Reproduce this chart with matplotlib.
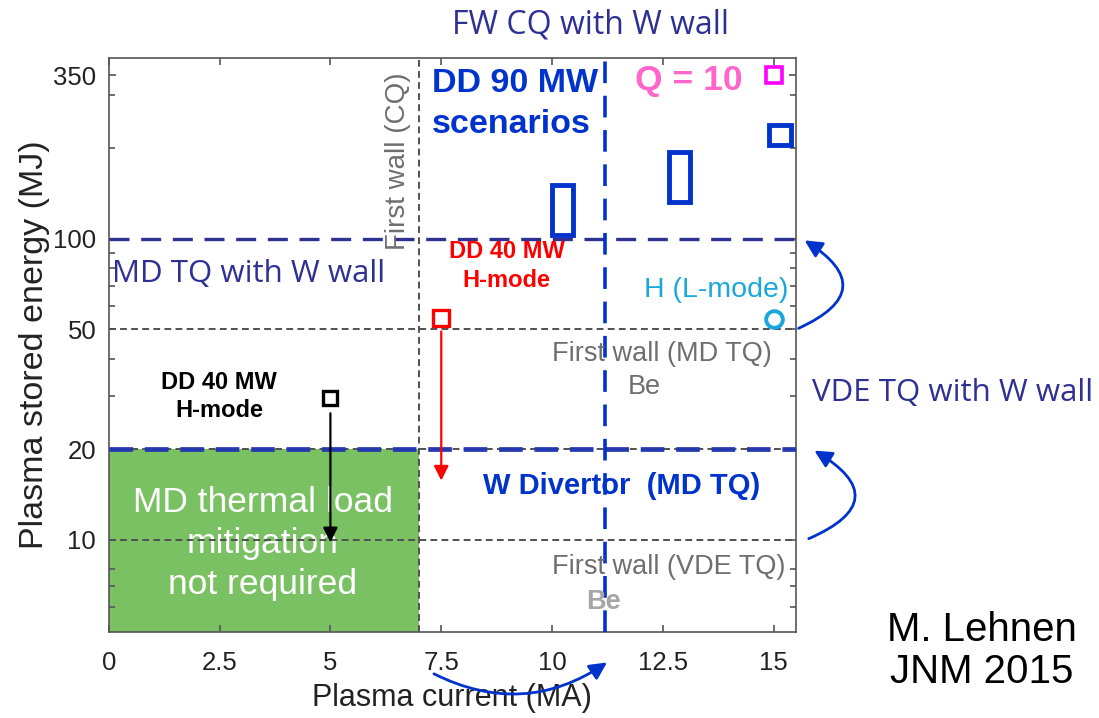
import matplotlib
matplotlib.use("Agg")
import matplotlib.pyplot as plt
from matplotlib.patches import Rectangle
from matplotlib.ticker import FixedLocator, NullFormatter

# === DATA ===
x_ticks = [0, 2.5, 5, 7.5, 10, 12.5, 15]
x_tick_labels = ["0", "2.5", "5", "7.5", "10", "12.5", "15"]
y_ticks = [10, 20, 50, 100, 350]
y_minor = [6, 7, 8, 30, 40, 60, 70, 80, 90, 200, 300]

# limit lines
fw_cq_current = 7.0
w_wall_cq_current = 11.2
gray_levels = [50, 20, 10]
md_w_wall_level = 100
vde_w_wall_level = 20

# no-mitigation zone (current max, energy max)
safe_current = 7.0
safe_energy = 20

# DD 90 MW scenario boxes: (I min, I max, W min, W max)
box_i0 = [10.0, 12.63, 14.88]
box_i1 = [10.48, 13.11, 15.38]
box_w0 = [103, 133, 205]
box_w1 = [151, 195, 239]

# single points
q10_point = (15.0, 350)
hl_point = (15.0, 54)
dd40_red = (7.5, 54.4)
dd40_black = (5.0, 29.5)
red_arrow_end = 15.4
black_arrow_end = 9.6

INDIGO = "#2e3192"
BLUE = "#0033cc"
GRAY = "#6e6e6e"
ARIAL = "Liberation Sans"
OPEN = "Open Sans"

plt.rcParams["font.family"] = ARIAL

fig = plt.figure(figsize=(10.99, 7.18), dpi=100)
ax = fig.add_axes([0.0989, 0.1202, 0.6254, 0.7994])
ax.set_yscale("log")
ax.set_xlim(0, 15.5)
ax.set_ylim(4.95, 400)

# green region
ax.add_patch(Rectangle((0, 4.95), safe_current, safe_energy - 4.95,
                       facecolor="#7ac163", edgecolor="none", zorder=0))
ax.text(3.48, 9.7, "MD thermal load\nmitigation\nnot required", color="white",
        fontsize=25.5, ha="center", va="center", linespacing=1.3, zorder=1)

# gray dashed limits
for lv in gray_levels:
    ax.axhline(lv, color="#505050", lw=1.4, ls=(0, (3.5, 2.2)), zorder=2)
ax.axvline(fw_cq_current, color="#505050", lw=1.4, ls=(0, (3.5, 2.2)), zorder=2)

# blue dashed lines
ax.axhline(md_w_wall_level, color=INDIGO, lw=2.4, ls=(0, (6, 3.5)), zorder=3)
ax.axhline(vde_w_wall_level, color="#2438b0", lw=3.4, ls=(0, (5, 2.5)), zorder=3)
ax.axvline(w_wall_cq_current, color=BLUE, lw=2.6, ls=(0, (6, 3.5)), zorder=3)

# scenario boxes
for a, b, c, d in zip(box_i0, box_i1, box_w0, box_w1):
    ax.add_patch(Rectangle((a, c), b - a, d - c, facecolor="none",
                           edgecolor=BLUE, lw=3.5, zorder=5, clip_on=False))

ax.plot(*q10_point, marker="s", ms=11, mfc="none", mec="#ff00ff", mew=2.6, zorder=5,
        clip_on=False)
ax.plot(*hl_point, marker="o", ms=12, mfc="none", mec="#1aa7dc", mew=2.8, zorder=5)
ax.plot(*dd40_red, marker="s", ms=11, mfc="none", mec="#ff0000", mew=2.4, zorder=5)
ax.plot(*dd40_black, marker="s", ms=10, mfc="none", mec="black", mew=2.4, zorder=5)

ax.annotate("", xy=(dd40_red[0], red_arrow_end), xytext=(dd40_red[0], 50.3),
            arrowprops=dict(arrowstyle="-|>", color="#ff0000", lw=1.6,
                            mutation_scale=22), zorder=6)
ax.annotate("", xy=(dd40_black[0], black_arrow_end), xytext=(dd40_black[0], 26.9),
            arrowprops=dict(arrowstyle="-|>", color="black", lw=1.6,
                            mutation_scale=22), zorder=6)

# texts in the plot
ax.text(6.52, 181, "First wall (CQ)", rotation=90, color=GRAY, fontsize=20,
        ha="center", va="center")
ax.text(7.28, 281, "DD 90 MW\nscenarios", color=BLUE, fontsize=24.5, weight="bold",
        ha="left", va="center", linespacing=1.4)
ax.text(11.88, 335, "Q = 10", color="#ff66cc", fontsize=25.5, weight="bold",
        ha="left", va="center")
ax.text(8.97, 81.3, "DD 40 MW\nH-mode", color="#ff0000", fontsize=17, weight="bold",
        ha="center", va="center", linespacing=1.3)
ax.text(0.08, 76.7, "MD TQ with W wall", color=INDIGO, fontsize=22.5, family=OPEN,
        ha="left", va="center")
ax.text(12.08, 67.4, "H (L-mode)", color="#1aa7dc", fontsize=20.5, ha="left", va="center")
ax.text(10.0, 41.5, "First wall (MD TQ)", color=GRAY, fontsize=19.5, ha="left", va="center")
ax.text(12.08, 32.3, "Be", color=GRAY, fontsize=19.5, ha="center", va="center")
ax.text(8.45, 15.1, "W Divertor  (MD TQ)", color=BLUE, fontsize=21, weight="bold",
        ha="left", va="center")
ax.text(10.0, 8.1, "First wall (VDE TQ)", color=GRAY, fontsize=19.5, ha="left", va="center")
ax.text(11.16, 6.23, "Be", color="#a6a6a6", fontsize=19.5, weight="bold",
        ha="center", va="center")
ax.text(2.49, 30.0, "DD 40 MW\nH-mode", color="black", fontsize=17, weight="bold",
        ha="center", va="center", linespacing=1.3)

# curved blue arrows outside the axes
arc = dict(arrowstyle="-|>", color=BLUE, lw=2.0, mutation_scale=26)
ax.annotate("", xy=(15.64, 100), xytext=(15.5, 50), annotation_clip=False,
            arrowprops=dict(connectionstyle="arc3,rad=0.95", **arc))
ax.annotate("", xy=(15.86, 20), xytext=(15.73, 10), annotation_clip=False,
            arrowprops=dict(connectionstyle="arc3,rad=1.0", **arc))
ax.annotate("", xy=(11.29, 3.96), xytext=(7.28, 3.62), annotation_clip=False,
            arrowprops=dict(connectionstyle="arc3,rad=0.3", **arc))

# axes styling
ax.set_xticks(x_ticks)
ax.set_xticklabels(x_tick_labels)
ax.set_yticks(y_ticks)
ax.set_yticklabels([str(v) for v in y_ticks])
ax.yaxis.set_minor_locator(FixedLocator(y_minor))
ax.yaxis.set_minor_formatter(NullFormatter())
ax.xaxis.set_minor_locator(FixedLocator([]))
ax.tick_params(which="both", direction="in", top=True, right=True,
               colors="#555555", labelcolor="#222222", labelsize=18.5)
ax.tick_params(axis="x", pad=14)
ax.tick_params(axis="y", pad=9)
ax.tick_params(which="major", length=5, width=1.2)
ax.tick_params(which="minor", length=4, width=1.2)
for s in ax.spines.values():
    s.set_color("#555555")
    s.set_linewidth(1.2)

ax.set_xlabel("Plasma current (MA)", fontsize=22, color="#222222", labelpad=6)
ax.set_ylabel("Plasma stored energy (MJ)", fontsize=24.5, color="#222222", labelpad=2)

# figure texts
fig.text(591 / 1099, 1 - 25 / 718, "FW CQ with W wall", color=INDIGO, fontsize=23,
         family=OPEN, ha="center", va="center")
fig.text(812 / 1099, 1 - 393 / 718, "VDE TQ with W wall", color=INDIGO, fontsize=22.5,
         family=OPEN, ha="left", va="center")
fig.text(982 / 1099, 1 - 651 / 718, "M. Lehnen\nJNM 2015", color="black", fontsize=29,
         ha="center", va="center", linespacing=1.15)

fig.savefig("out.png", dpi=100)
